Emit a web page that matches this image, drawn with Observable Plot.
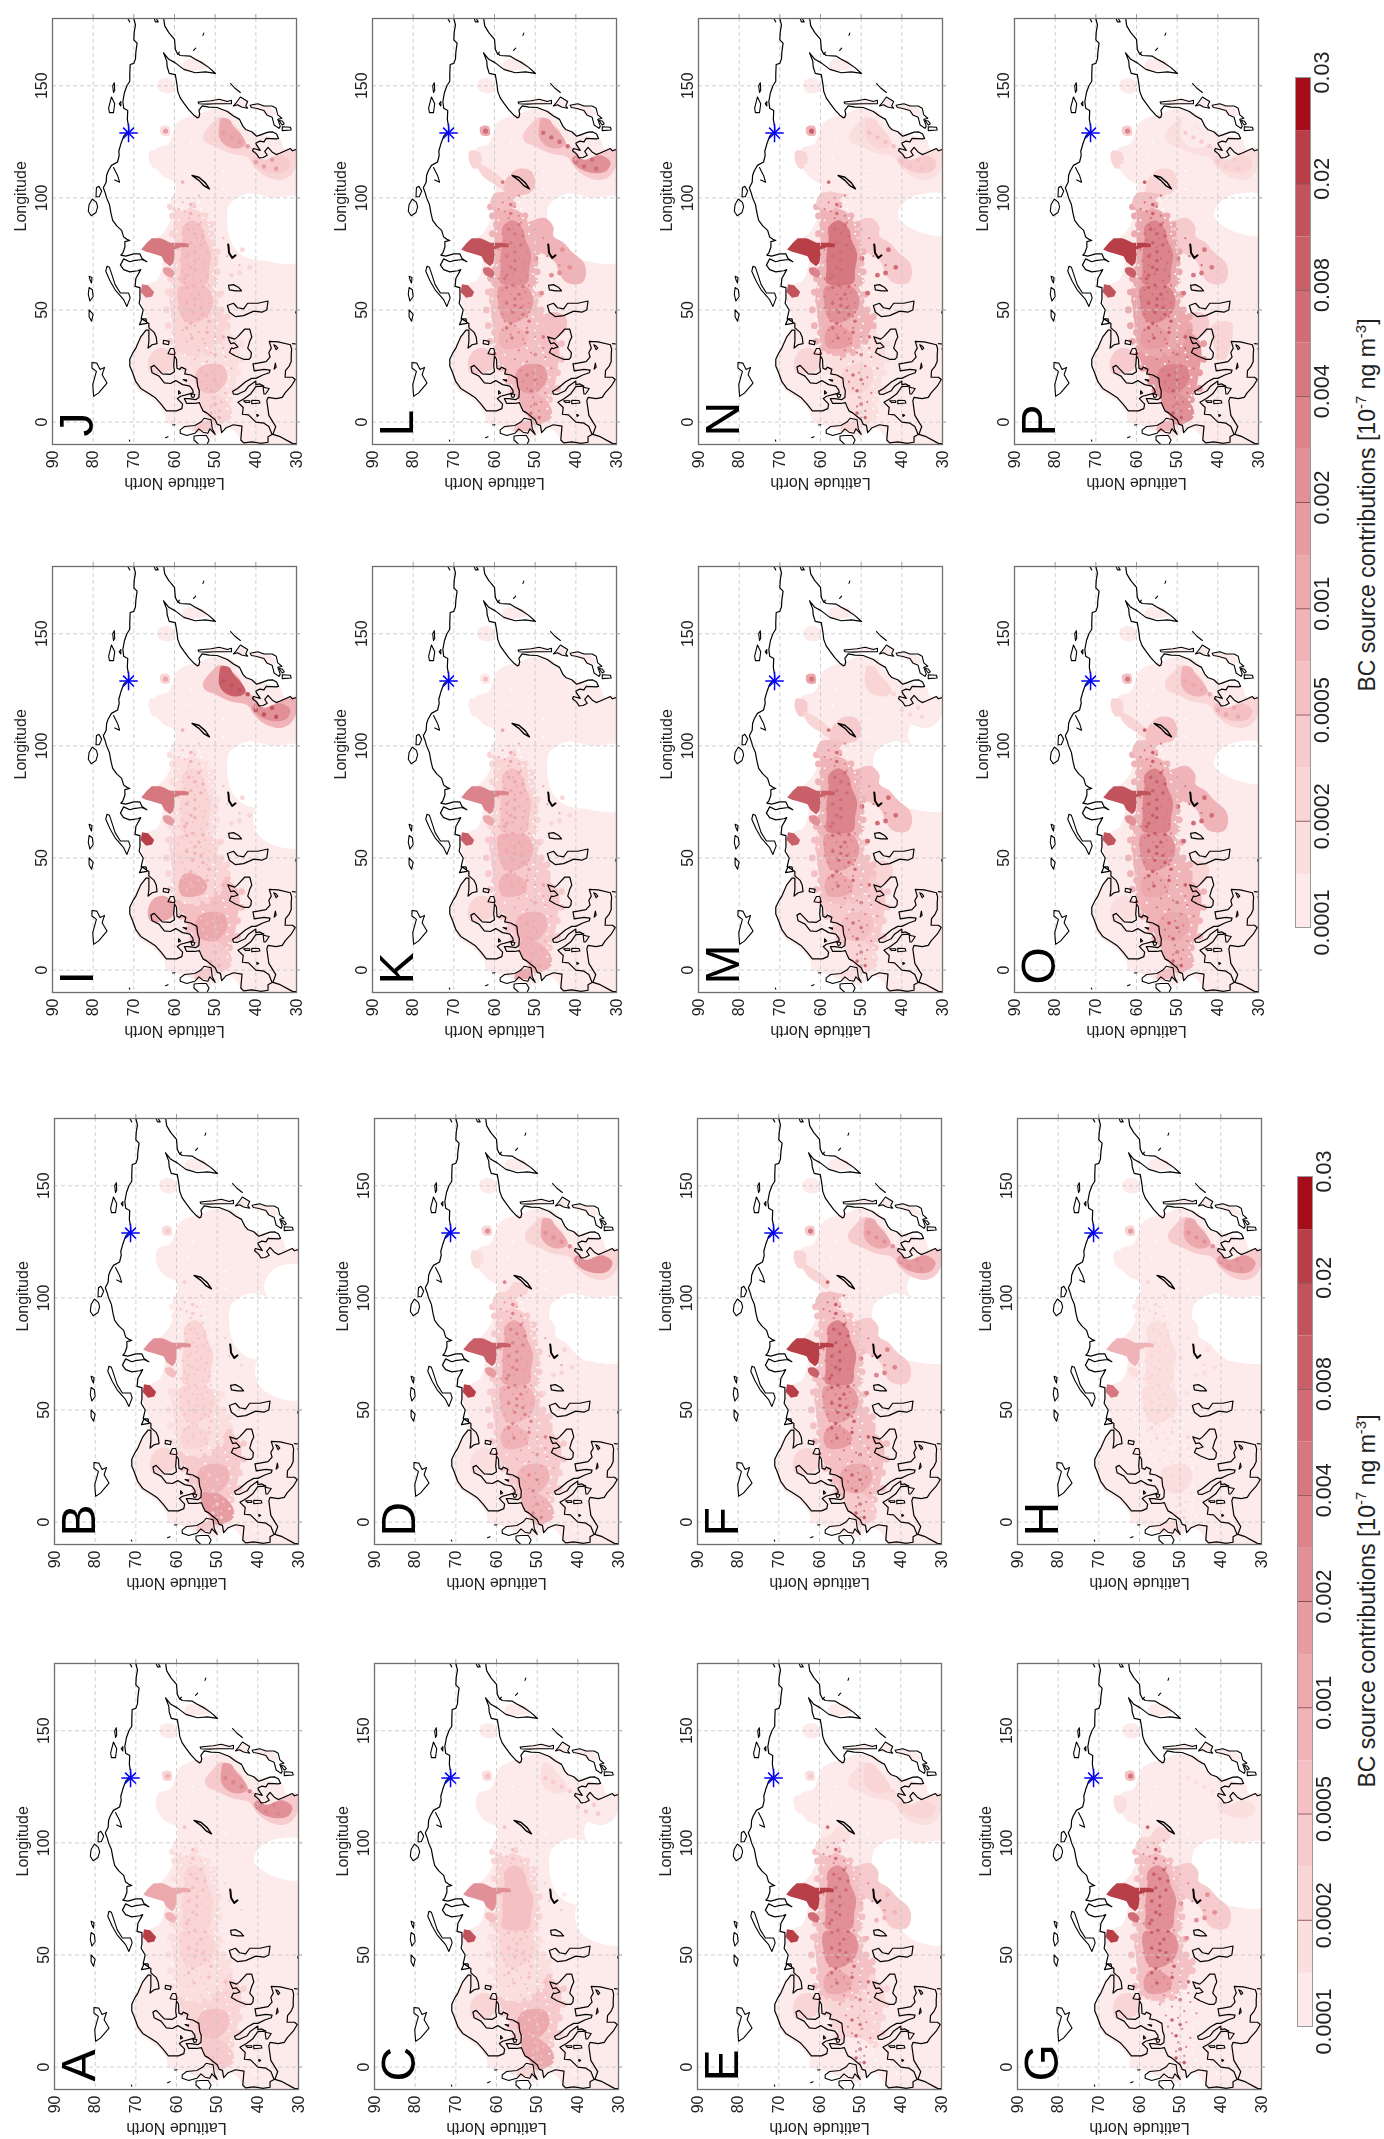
<!DOCTYPE html>
<html><head><meta charset="utf-8">
<script src="https://cdn.jsdelivr.net/npm/d3@7"></script>
<script src="https://cdn.jsdelivr.net/npm/@observablehq/plot@0.6"></script>
<style>
html,body{margin:0;padding:0;background:#fff}
#page{position:relative;width:1384px;height:2139px;overflow:hidden;font-family:"Liberation Sans",Arial,sans-serif;background:#fff}
.panel{position:absolute}
.panel svg{filter:blur(0.3px)}
.cbtitle{position:absolute;white-space:nowrap;font-size:23px;color:#222;transform:translate(-50%,-50%) rotate(-90deg)}
.cbtitle sup{font-size:15px;line-height:0}
</style></head><body><div id="page"></div>
<script>
// ---------- panels, in A..P order ----------
const panelLetters = ["A","B","C","D","E","F","G","H","I","J","K","L","M","N","O","P"];
const latTicks = [90,80,70,60,50,40,30];
const lonTicks = [0,50,100,150];
const latGrid = [80,70,60,50,40];
const station = {lon:128.9, lat:71.3};

// colour classes of the colour bar, lowest to highest
const colorClasses = ["#ffffff","#fdeaea","#fbdfdf","#f9d5d6","#f7cbcd","#f4c0c3","#f0b4b8","#eba8ad","#e79ca2","#e29097","#dc848c","#d67880","#cf6c75","#c85f69","#c1535d","#b83f48","#a60d1b"];
const barLabels = ["0.0001","0.0002","0.0005","0.001","0.002","0.004","0.008","0.02","0.03"];

// ---------- class of each source region in each panel (A..P) ----------
const lvNorilsk  = [7,9,9,13,15,15,15,6,11,11,10,14,13,15,14,15];
const lvKomi     = [15,15,14,15,15,15,15,11,15,11,13,14,13,14,14,14];
const lvNadym    = [6,5,5,8,12,13,12,2,8,8,7,12,9,10,9,13];
const lvYakutsk  = [3,2,2,3,2,4,5,3,3,2,1,7,7,6,5,4];
const lvChinaOut = [4,0,1,3,2,4,1,4,6,3,0,4,1,2,3,2];
const lvChinaNE  = [8,0,2,7,3,7,0,7,13,7,0,7,3,3,6,1];
const lvChinaN   = [9,0,0,9,3,8,2,8,9,4,0,9,1,4,5,3];
const lvSibOut   = [2,1,3,4,5,5,5,1,2,3,3,6,6,6,6,7];
const lvSibCore  = [3,3,5,7,9,10,9,2,3,5,5,9,10,11,10,10];
const lvVolgaOut = [2,2,2,4,5,5,5,1,3,3,4,5,5,6,6,7];
const lvVolgaCore= [3,3,3,6,9,8,9,2,3,5,6,8,8,9,9,10];
const lvMoscow   = [2,3,2,6,7,8,8,1,7,3,6,6,7,8,7,8];
const lvEastEu   = [3,4,4,4,3,5,1,1,5,2,4,5,4,2,6,8];
const lvPoland   = [5,6,7,6,3,7,1,2,7,5,6,8,5,3,7,10];
const lvWestEu   = [4,8,7,6,1,4,1,1,4,3,6,6,3,2,6,9];
const lvKazakh   = [0,0,0,1,4,4,4,1,0,0,0,6,5,4,6,4];
const lvEastSib  = [1,1,1,3,2,5,3,1,1,1,1,5,5,4,5,5];
const lvBaikal   = [0,0,0,0,0,1,0,0,0,0,0,5,4,1,5,3];
const lvVilyuy   = [0,0,0,2,1,3,2,1,1,1,1,3,4,3,3,3];
const lvVilyuyArm= [0,0,0,1,0,3,0,0,0,0,0,3,3,1,3,1];
const lvFinland  = [1,3,3,2,3,3,3,1,7,3,3,4,1,3,2,4];
const lvUK       = [1,4,3,1,1,1,1,2,4,4,7,5,2,3,5,6];
const lvCaucasus = [0,0,0,0,0,1,0,0,0,0,0,5,3,1,3,4];
const lvTurkey   = [0,0,0,0,0,0,0,0,0,0,0,1,1,0,1,3];
const lvCitySpot = [5,4,5,10,12,13,13,3,6,6,7,11,12,12,13,13];
const lvStipple  = [4,5,5,8,10,11,10,3,5,6,7,10,10,11,11,12];
const lvChinaSpot= [10,0,4,9,3,9,2,9,14,8,0,12,3,5,7,4];
const lvYakSpot  = [6,4,5,9,4,11,11,8,7,8,5,12,11,13,11,10];
const lvKazSpot  = [1,0,1,3,6,10,9,2,3,3,3,9,12,12,12,11];
const holeLargeOn= [0,1,1,1,1,1,1,1,1,1,1,1,1,0,0,0];
const holeSmallOn= [1,0,0,0,0,0,0,0,0,0,0,0,0,1,1,1];
const holeIranOn = [0,1,1,0,1,0,0,0,1,0,0,0,0,0,0,0];
const holeChinaOn= [0,1,1,0,0,1,0,0,0,0,0,0,1,0,0,0];

// ---------- region outlines, [lon,lat] ----------
const extent = [[-10,30],[-10,43.5],[-7,44],[-3,46],[-3,48],[-6,49.5],[-7,50.5],[-6,53],[-2,58],[-1,60.5],[0,62],[4,62.5],[8,64],[11,66],[14,68.5],[18,70],[23,70.5],[27,71],[30,70],[35,69.5],[41,67.5],[44,66.8],[47,67],[50,67.5],[54,68.3],[58,68.5],[60,67.5],[62,66],[63,64.5],[66,63.5],[70,63],[74,63],[76,66],[80,66],[84,63],[90,61],[96,60.5],[100,60],[107,60],[110,63],[116,65],[122,64.5],[124,61.5],[128,60.5],[133,59.5],[136,57],[137,54.5],[140,50],[138,45.5],[132,43.5],[130,41.5],[128,38],[126,34],[122,33],[122,30]];
const holeLarge = [[72,29],[72,38],[74,43],[80,46],[88,47],[97,46.5],[102,42],[100,36],[100,29]];
const holeSmall = [[84,29],[85,36],[92,41],[100,38],[101,29]];
const holeIran = [[55,29],[56,36],[62,40],[72,40],[72,29]];
const holeChina = [[100,29],[100,37],[105,38.5],[113,36],[114,29]];
const palePatches = [
  [[146.5,61.5],[148,63.8],[152,64],[153.5,62],[152,60.3],[148,60]],
  [[157,57.5],[159.5,58],[162,56.5],[161.5,53.5],[158.5,51.8],[157,54]],
  [[142,53],[143.5,50],[143.5,46.5],[142,47]],
  [[141,41],[141.5,38],[139,35.5],[137,35],[137,37],[140,40]],
  [[141,45],[144,44],[143,42.5],[140.7,43]]
];
const reNorilsk = [[77,68.2],[80,66.8],[82,65.6],[82,63.5],[81.5,62.8],[80,61],[80,60],[80,58],[79.5,56.5],[78,56.5],[78,58.5],[77,60],[74,60],[71,60.3],[69.5,61.1],[71.5,62.5],[74,63.2],[75.3,65.6],[76,67]];
const reKomi = [[61.5,68],[61,66.5],[58,65],[56,65.5],[55.5,67],[58,68.3]];
const reNadym = [[68.5,62.8],[69,61.5],[66.5,60],[64.5,60.5],[66,62.5]];
const reYakutsk = [[128,63.2],[131.5,63.5],[132,61.5],[128,61.2]];
const reChinaOut = [[136,49],[133,51],[128,53],[125,52.5],[123,50],[120,46.5],[118,42],[114,40.5],[110,38],[108,34],[110,31.5],[115,30],[121,30],[121,33],[119,35],[117,38],[122,40.5],[125,43],[130,44],[134,46.5]];
const reChinaNE = [[135.5,48.5],[132,49],[127,49],[123.5,47.5],[122,44.5],[124,42.5],[128,43.5],[132,45.5],[135,46.5]];
const reChinaN = [[119,40],[117,41],[113,39],[111,35.5],[112,32.5],[116,31.5],[119,34],[117,38]];
const reWestEu = [[-1,50.5],[3,52],[7,53.5],[11,54],[14,53],[13,50],[10,47.5],[6,46],[2,46],[-0.5,48]];
const reEastEu = [[11,54.5],[16,55.5],[22,57.5],[27,59],[32,59],[34,56],[38,52],[40,47],[36,44.5],[30,44],[24,44.5],[18,45],[12,46],[8,49]];
const rePoland = [[14,53.5],[19,55],[24,54],[26,51],[25,48],[20,47],[16,48],[13,50]];
const reVolgaOut = [[30,58],[36,60],[44,60.5],[52,61],[60,61],[62,57],[62,52],[58,50],[52,49.5],[45,47],[40,48],[35,50],[31,53]];
const reVolgaCore = [[46,58],[52,59],[60,59],[61,56],[60,52],[55,50.5],[50,51],[46,53],[44,56]];
const reMoscow = [[33,58],[38,59],[43,57.5],[42,54],[38,52],[34,53]];
const reSibOut = [[60,60],[65,60.5],[72,60],[80,60],[86,60],[93,60],[97,60.5],[100,59],[96,56.5],[94,54],[90,52],[85,51.5],[80,51],[73,49.5],[66,50],[60,50.5]];
const reSibCore = [[62,58.5],[68,58.5],[75,58.5],[82,58],[87,58],[90,55.5],[86,53],[82,52.5],[75,51],[68,51.5],[62,52]];
const reKazakh = [[78,54],[82,54],[87,53],[90,50.5],[91,47.5],[87,45.5],[83,45.5],[80,43],[76,41],[71,38],[66,37.5],[62,38.5],[62,42],[66,44],[71,45],[75,48],[76,51]];
const reEastSib = [[97,61],[102,60],[103,57.5],[107,55.5],[105,52.5],[102,52.5],[100,55],[96,56],[94,58]];
const reBaikal = [[104,58],[110,56.5],[113,54],[112,51],[106,50],[102,51.5],[102,55]];
const reVilyuy = [[121,66],[117,66.3],[113,65],[114.5,63.5],[120,63.5]];
const reVilyuyArm = [[115,64],[112,60.5],[107,57.5],[104,58],[106,60],[110,63]];
const reFinland = [[22,66],[27,66.5],[32,65],[33,62.5],[29,60],[24,60.5],[22,62.5]];
const reUK = [[-4,55],[-1.5,54.8],[0.5,52.5],[0.5,51],[-3.5,51],[-4,53]];
const reCaucasus = [[38,47],[45,48],[49,46],[47,42.5],[41,42.5],[38,44.5]];
const reTurkey = [[28,40.5],[31,40.5],[37,41.5],[43,41.5],[45,39],[44,36.5],[37,36.5],[30,37.5],[28,38]];

// ---------- rough edges of the belt, point sources and gaps ----------
const fringeVolga = [[31,56],[33,59.5],[36,61],[40,60],[43,61.5],[47,60],[50,62],[54,60.5],[58,61.5],[62,60],[63,55],[61,51.5],[57,49],[54,50],[50,48.5],[47,47],[43,47],[40,49],[36,49],[34,51],[31,52],[30,54.5]];
const fringeSib = [[64,61],[68,60],[72,61],[76,59.5],[84,60.5],[88,59.5],[92,60.5],[96,61],[99,58],[97,55.5],[93,55],[92,52.5],[88,51],[84,51],[80,50.5],[76,49.5],[71,50],[67,49.5],[63,50]];
const fringeEast = [[14,55.5],[18,56.5],[24,58.5],[30,59],[35,55],[39,50],[41,47],[35,43.5],[28,43.5],[22,44.5],[15,44.5],[10,46.5],[7,49.5]];
const stipple = [[2,50],[5,49],[7,51],[9,48.5],[11,50.5],[13,47.5],[15,52],[17,49.5],[18,53],[20,48.5],[22,50.5],[23,53.5],[25,49],[27,52],[28,55],[29,47.5],[31,51],[32,54],[33,48],[35,52.5],[36,57],[37,53],[38,50],[39,56],[40,54],[41,58],[42,52],[43,55],[45,57.5],[46,54],[47,52],[48,58],[49,51.5],[50,56],[51,59],[52,53],[53,51.5],[54,57],[55,53.5],[56,59],[57,56],[58,52.5],[59,58],[60,55],[61,51.5],[62,57.5],[63,53.5],[64,59],[65,52],[66,55.5],[67,58],[68,53],[70,57],[71,52.5],[72,58.5],[73,54],[75,56.5],[76,52],[77,59],[78,55],[80,52.5],[81,57.5],[82,54.5],[84,58],[85,53],[86,55.5],[88,57],[89,53.5],[91,56.5],[92,54],[94,57.5],[95,59],[96,55],[98,58],[100,56.5],[101,54],[24,46],[30,45.5],[36,46.5],[70,44],[74,47],[82,48],[86,50]];
const citySpots = [[107,58],[97,56],[93,56],[88,54],[84,55],[83,53],[79,53.5],[76,55],[72,55],[69,56],[65.5,57],[61,55.5],[60,57],[57,54],[60.5,53],[55,55],[52,55],[51,53.5],[49,55.5],[44,56],[45,51.5],[40,52],[37.5,55.7],[30.5,60],[38,48],[30,50],[21,52],[19,50],[14,51],[8,50],[4,51],[2,49],[64,57.5],[68,55],[74,57],[80,56],[86,56.5],[53,57],[48,53],[42,57]];
const kazakhSpots = [[65.5,46],[57.5,48.4],[73,49.8],[66.5,44],[69,41.5],[76.9,43.3]];
const chinaSpots = [[114,38],[116,40],[123,42],[125,44],[127,46],[129,48],[117,36],[113,35]];
const yakutskSpot = [[129.8,62.2]];
const whiteSpecks = [[10,47],[12,46.5],[16,47],[20,46.5],[24,47],[28,47.5],[31,48],[34,49],[37,50],[41,50],[44,49.5],[47,50.5],[55,50],[57,50.5],[60,50.3],[63,49.5],[66,50.5],[69,50],[76,50],[80,50],[84,51.5],[88,51.5],[91,53],[95,53.5],[98,54],[35,60],[38,60.5],[42,60],[46,61],[50,60],[55,60.5],[60,60.5],[65,60],[70,59.5],[85,59.5],[90,59],[15,57],[20,58],[25,58],[30,57.5],[6,47],[3,46],[33,52],[26,53],[58,47],[62,45],[110,56],[118,57],[125,56],[104,48],[112,48],[-3,41],[20,63],[34,62]];

// ---------- coast lines, [lon,lat] ----------
const coastArctic = [[180,70],[177,69.6],[174,69.9],[170.5,70],[169,69.2],[165,69.5],[162,69.6],[160,70],[159.5,70.9],[155,71],[152,71],[150,71.7],[147,72.3],[143,72.7],[140,72.5],[139,71.5],[135,71.6],[132,71.3],[130,71.2],[127.5,72.5],[124,73.2],[120.8,73.7],[119,73.6],[116,74],[114.5,75.5],[112,76.3],[110,76.7],[107,76.8],[104.5,77.5],[102,77],[100,76.7],[97,76],[93,75.6],[90,75.2],[87.5,74.2],[85.5,73],[82.5,72.5],[81.5,71.7],[81,71],[80.5,72.2],[78,72.2],[75.5,72.7],[74.5,73.2],[74,72],[75,70],[75,68.5],[73,68],[71.5,66.8],[72.5,68],[72,70],[71.5,71],[72.8,72.5],[70,73.3],[68,72.5],[67,71],[67.5,69],[68,68.3],[64,69.5],[60.5,69.7],[60,68.5],[55,68.5],[53,68.7],[50,67.7],[46,68.2],[46,67],[44,66.8],[43.5,68.6],[46,68],[44,66.3],[42,66.3],[40,65],[38,64.5],[35,64.3],[34.5,65.5],[33,66.5],[36,66.3],[41,66.3],[41,67],[38,68.3],[33,69.5],[31,70.2],[28,71],[25,71],[22,70.3],[18,69.5],[15,68.3],[13,66.5],[11,64.8],[8,63.3],[5,62],[5,59.5],[6,58.2],[8,58],[10.5,59.3],[11.5,58.5],[12.5,56.5],[13,55.4],[14.3,55.5],[16,56.2],[16.7,58],[18.5,59.7],[17.2,61],[17.5,62.5],[20.5,63.8],[22,65.5],[24.5,65.8],[25.3,65],[21.5,63],[21.3,61],[22.5,60],[25,60.2],[29.5,60],[28,59.5],[24,59.4],[23.5,58.7],[24.5,58.3],[23.5,57.2],[21.5,57.5],[21,56],[19.5,54.5],[16,54.3],[14,53.9],[11,54],[10,54.8],[10.5,56.5],[10.5,57.6],[8.3,57],[8.3,55],[8.7,53.9],[7,53.5],[5,53],[4,52],[2.5,51],[1,50],[-1,49.5],[-1.5,48.7],[-4.7,48.4],[-2.5,47.3],[-1.2,45.5],[-1.8,43.4],[-8,43.7],[-9.3,43],[-8.8,41],[-9.5,38.7],[-9,37],[-6.5,37],[-5.5,36],[-2,36.8],[-0.5,38],[0,40],[3.2,41.8],[3.5,43.3],[6.5,43.1],[8.8,44.4],[10.5,42.8],[12.5,41.3],[15.8,40],[16,38],[17,39],[16.7,40],[18.3,40],[16,41.8],[14,42.6],[12.4,44.5],[12.5,45.5],[13.7,45.7],[15,44.5],[18,42.5],[19.5,41],[19.5,40],[21,38.3],[22,36.7],[23.2,36.5],[23.5,38],[22.8,40.4],[24,40.5],[26,40.7],[26.3,39.5],[27,37.5],[29,36.5],[31,36.8],[33,36.2],[36,36.7],[35.8,34.5],[34.5,31.5],[32.5,31.2],[30,31.3],[27,31.3],[25,31.8],[23,32.7],[20,32.8],[20,31],[19,30.3],[16,31.3],[13,32.8],[11,33.5],[10.5,35],[11,37],[9.5,37.3],[3,36.8],[-2,35.1],[-5.5,35.8],[-6.5,34],[-9.5,31],[-9.7,29.5]];
const coastPacific = [[121.8,29.5],[121,31],[122,31.5],[120,34],[119.3,35],[120.5,36],[122.5,37],[120.7,37.8],[119,37.2],[118,38.2],[117.8,39.2],[119.5,39.8],[121,40.8],[122,40.6],[121.2,38.9],[123.5,39.8],[124.5,40],[125.3,39],[125,38],[126.5,37.5],[126.3,35],[126.5,34.4],[128.5,34.9],[129.4,35.8],[129.3,37],[128,39],[127.5,39.8],[129.5,41],[130.5,42.5],[132,43.2],[135,44],[136.5,45.5],[138.5,47],[140.3,49.5],[140.5,51.5],[141,53.2],[139,54],[137.5,53.8],[136,54],[135.7,54.4],[137,55.3],[139.4,56.5],[142,57.6],[144.6,58.6],[147.5,59.2],[150.6,59.4],[155,59.8],[155.5,61.3],[158.5,61.8],[161,61.9],[164.7,62.7],[161.8,61.4],[160.2,59.8],[157.3,57.7],[155.8,54.9],[156.2,52.4],[155.5,49.9],[158.2,51.6],[160.2,53.2],[161.8,54.9],[163.2,56.1],[163.5,58.6],[164.7,59.4],[166.3,59.8],[170.7,60],[173.7,61.4],[176.7,62.4],[180.4,62.7]];
const coastBaikal = [[110,55.7],[109.2,54],[106.7,52.4],[104,51.4],[105.5,52.8],[107.8,54],[110,55.7]];
const coastBalkhash = [[79.2,46.8],[78,46.7],[75.5,46.6],[73.2,45.8],[74.4,45]];
const coastAral = [[58.5,45],[59,46.5],[61,46.7],[61.3,45.5],[60,44.2],[58.5,43.5],[58.5,45]];
const coastCaspian = [[47,45],[49,46.5],[52,47],[53,45.5],[51,44.5],[50.5,43],[53,42],[53,39.5],[54,37],[50,37.3],[49,38.5],[49.5,40.5],[47.5,43],[47,45]];
const coastBlack = [[28,41.7],[28,43],[29.5,45],[31,46.5],[33,46],[32.8,45.5],[33.5,44.4],[35.3,45.3],[35,46.2],[38,46.9],[37,45.2],[38,44.5],[41.5,42.7],[41.5,41.5],[38,41],[36,41.5],[33,42],[31,41.1],[29,41.2],[28,41.7]];
const coastIslands = [
  [[92,80.5],[94,81.2],[97,81],[99.5,80.2],[98,79.2],[96,78.9],[93.5,79.3],[92,80.5]],
  [[100.5,79.3],[104.5,79.2],[105.2,78.6],[103,77.9],[100.5,78.5],[100.5,79.3]],
  [[140,76.2],[145,75.5],[142,74.7],[138,75],[138,76],[140,76.2]],
  [[147,75],[150,75.2],[151.3,74.8],[148,74.7],[147,75]],
  [[142,73.6],[143,73.2],[141,73.2],[142,73.6]],
  [[113.5,75],[110,74],[107,73.5],[108,74.7]],
  [[69.5,76.6],[67.3,76.9],[62.8,75.8],[59,74.6],[54.6,72.5],[51.6,71.7],[55.4,70.9],[57.6,71.3],[57.6,73.3],[61.3,74.6],[65.8,75.4],[69,76],[69.5,76.6]],
  [[65,81],[63,80.7],[62,80.4],[64.5,80.3],[65,81]],
  [[60,81],[57,81.2],[54,80.8],[56,80],[59,80.2],[60,81]],
  [[50,81],[47,81],[45,80.4],[48,80],[50,81]],
  [[26.6,80.3],[26.3,79.1],[23.4,78.3],[24.4,77.2],[21.1,77.8],[17.4,76.6],[12.9,78.7],[11.5,79.9],[16.7,80.1],[22.6,79.2],[24.1,80.3],[26.6,80.3]],
  [[142.7,54.2],[143,53],[143.3,51],[144,49],[143,47],[143.5,46],[142,46],[142,48],[142,50],[141.8,52],[142,54],[142.7,54.2]],
  [[141,45.5],[142,45],[145,43.8],[143,42],[141,42.5],[140,42],[140.5,43.5],[141.5,44.5],[141,45.5]],
  [[151,46.2],[149,45.2],[147,43.8]],
  [[141.3,41.4],[142,39.5],[141,38],[141,36],[140,35],[137,34.6],[135.5,33.6],[135,34.6],[132,34],[131,34.3],[132.5,35.5],[136,36],[137,37.3],[139,38],[140,40],[140.3,41.1],[141.3,41.4]],
  [[130,33.5],[131.7,33.5],[131.5,31.5],[130.3,31.3],[130,33.5]],
  [[132.5,33.5],[134.5,34.3],[134.3,33.5],[133,33],[132.5,33.5]],
  [[-5.5,50],[-3,50.7],[1,51],[1.7,52.7],[0,53.5],[-1.5,55],[-2,57.5],[-3.5,58.6],[-5,58.6],[-6,57],[-5,55],[-3,54],[-4.5,53],[-5,51.8],[-3,51.3],[-5.5,50]],
  [[-6,52.2],[-6,54],[-6.2,55.2],[-8,55.2],[-10,54],[-10,52],[-8,51.5],[-6,52.2]],
  [[-7,62.2],[-6.5,61.6]],[[-8.5,71],[-8,71.1]],[[-1.3,60.5],[-1.2,59.9]],
  [[12.5,38],[15.5,38.2],[15,36.7],[12.5,37.6],[12.5,38]],
  [[8.2,41],[9.7,41],[9.6,39.2],[8.5,39],[8.2,41]],
  [[8.7,42.5],[9.5,43],[9.5,41.5],[8.8,41.5],[8.7,42.5]],
  [[23.6,35.5],[26.3,35.2],[24.5,35],[23.6,35.5]],
  [[32.3,35],[34.5,35.6],[33.9,35],[33,34.6],[32.3,35]],
  [[2.5,39.7],[3.4,39.8],[3,39.3],[2.5,39.7]],
  [[11,55.7],[12.5,56],[12.3,55],[11.2,55.2],[11,55.7]],
  [[18.2,57.1],[19,57.9],[18.7,57],[18.2,57.1]],
  [[30,60],[30.5,61.6],[32.8,61],[32.8,60.2],[31,59.9],[30,60]],
  [[34.5,61.5],[35,62.8],[36.5,62.7],[36,61.3],[34.5,61.5]],
  [[12.5,59],[14,59],[13,58.5],[12.5,59]],
  [[180,65],[178.5,64.7],[178.5,64],[180,64.5]],[[180,71.5],[178.5,71]],
  [[172.5,53],[173.5,52.8]],[[165.8,55.3],[166.8,54.8]],[[164,59.2],[165,58.8]],
  [[48.7,30.2],[50,30],[50.5,29.5]],[[32.5,29.5],[32.6,30.2]],[[34.8,30],[35,31]]
];

// ---------- frame positions of the panels (page pixels) ----------
const frameLeft = [54,54,374,374,697,697,1017,1017,52,52,372,372,698,698,1014,1014];
const frameTop  = [1663,1118,1663,1118,1663,1118,1663,1118,566,18,566,18,566,18,566,18];
const frameW = 244, frameH = 426;
const mL = 50, mR = 10, mT = 6, mB = 50;

const page = document.getElementById("page");
const lonOf = d => d[0], latOf = d => d[1];

function area(poly, level, curve="catmull-rom-closed"){
  if(!level) return null;
  return Plot.line(poly,{x:latOf,y:lonOf,fill:colorClasses[level],stroke:"none",curve,clip:true});
}
function hole(poly,on){
  return on ? Plot.line(poly,{x:latOf,y:lonOf,fill:"#fff",stroke:"none",curve:"catmull-rom-closed",clip:true}) : null;
}
function spots(pts,level,r){
  if(!level) return null;
  return Plot.dot(pts,{x:latOf,y:lonOf,r,fill:colorClasses[level],stroke:"none",clip:true});
}
function coast(pts,w=1.2){
  return Plot.line(pts,{x:latOf,y:lonOf,stroke:"#000",strokeWidth:w,clip:true,curve:"linear"});
}

panelLetters.forEach((letter,i)=>{
  const marks = [
    area(extent,1),
    hole(holeLarge,holeLargeOn[i]), hole(holeSmall,holeSmallOn[i]), hole(holeIran,holeIranOn[i]), hole(holeChina,holeChinaOn[i]),
    ...palePatches.map(p=>area(p,1)),
    area(reChinaOut,lvChinaOut[i]),
    area(reChinaNE,lvChinaNE[i]),
    area(reChinaN,lvChinaN[i]),
    area(reKazakh,lvKazakh[i]),
    area(reCaucasus,lvCaucasus[i]),
    area(reTurkey,lvTurkey[i]),
    area(reFinland,lvFinland[i]),
    area(reUK,lvUK[i]),
    area(reEastEu,lvEastEu[i]),
    spots(fringeEast,lvEastEu[i],3.4),
    area(reWestEu,lvWestEu[i]),
    area(rePoland,lvPoland[i]),
    area(reVolgaOut,lvVolgaOut[i]),
    spots(fringeVolga,lvVolgaOut[i],3.4),
    area(reSibOut,lvSibOut[i]),
    spots(fringeSib,lvSibOut[i],3.4),
    area(reEastSib,lvEastSib[i]),
    area(reBaikal,lvBaikal[i]),
    area(reVilyuy,lvVilyuy[i]),
    area(reVilyuyArm,lvVilyuyArm[i]),
    area(reVolgaCore,lvVolgaCore[i]),
    area(reSibCore,lvSibCore[i]),
    area(reMoscow,lvMoscow[i]),
    area(reYakutsk,lvYakutsk[i]),
    area(reNadym,lvNadym[i]),
    area(reKomi,lvKomi[i],"linear"),
    area(reNorilsk,lvNorilsk[i],"linear"),
    Plot.dot(whiteSpecks,{x:latOf,y:lonOf,r:1,fill:"#fff",stroke:"none",clip:true}),
    spots(stipple,lvStipple[i],1.1),
    spots(citySpots,lvCitySpot[i],1.8),
    spots(kazakhSpots,lvKazSpot[i],2.4),
    spots(chinaSpots,lvChinaSpot[i],2.2),
    spots(yakutskSpot,lvYakSpot[i],2.6),
    Plot.ruleX(latGrid,{stroke:"#c9c9c9",strokeDasharray:"4,3",strokeWidth:0.9}),
    Plot.ruleY(lonTicks,{stroke:"#c9c9c9",strokeDasharray:"4,3",strokeWidth:0.9}),
    coast(coastArctic), coast(coastPacific),
    coast(coastBaikal,1.4), coast(coastBalkhash,2), coast(coastAral), coast(coastCaspian), coast(coastBlack),
    ...coastIslands.map(p=>coast(p,1.1)),
    Plot.frame({stroke:"#6e6e6e",strokeWidth:1.3}),
    Plot.axisX({anchor:"bottom",ticks:latTicks,tickSize:0,tickRotate:-90,tickPadding:6,fontSize:16,label:null,tickFormat:d=>String(d)}),
    Plot.axisY({anchor:"left",ticks:lonTicks,tickSize:0,tickRotate:-90,tickPadding:6,fontSize:16,label:null,tickFormat:d=>String(d)}),
    Plot.ruleY(lonTicks,{x1:()=>30,x2:()=>29,stroke:"#999"}),
    Plot.ruleX(latGrid,{y1:()=>180,y2:()=>181.8,stroke:"#999"}),
    Plot.text(["Longitude"],{frameAnchor:"left",y:()=>85,dx:-32,rotate:-90,fontSize:16,fill:"#222"}),
    Plot.text(["Latitude North"],{frameAnchor:"bottom",x:()=>60,dy:33,rotate:180,fontSize:16,fill:"#222"}),
    Plot.dot([station],{x:"lat",y:"lon",symbol:"plus",r:6,stroke:"#0000ff",strokeWidth:1.5}),
    Plot.dot([station],{x:"lat",y:"lon",symbol:"times",r:5,stroke:"#0000ff",strokeWidth:1.5}),
    Plot.text([letter],{x:()=>80,y:()=>-6.4,rotate:-90,textAnchor:"start",lineAnchor:"bottom",fontSize:48,fill:"#000"})
  ].filter(Boolean);
  const svg = Plot.plot({
    width:frameW+mL+mR,height:frameH+mT+mB,
    marginLeft:mL,marginRight:mR,marginTop:mT,marginBottom:mB,
    style:{fontFamily:'"Liberation Sans",Arial,sans-serif',background:"transparent",color:"#222"},
    x:{domain:[90,30],axis:null},
    y:{domain:[-10,180],axis:null},
    marks
  });
  const box=document.createElement("div");
  box.className="panel";
  box.style.left=(frameLeft[i]-mL)+"px";
  box.style.top=(frameTop[i]-mT)+"px";
  box.appendChild(svg);
  page.appendChild(box);
});

// ---------- colour bars ----------
const barClasses = d3.range(1,17);
const barTicks = d3.range(0,17,2);
function colorBar(left,top,h){
  const ml=1,mr=50,mt=34,mb=40,w=15;
  const svg=Plot.plot({
    width:ml+w+mr,height:h+mt+mb,marginLeft:ml,marginRight:mr,marginTop:mt,marginBottom:mb,
    style:{fontFamily:'"Liberation Sans",Arial,sans-serif',background:"transparent",color:"#222"},
    x:{domain:[0,1],axis:null},
    y:{domain:[0,16],axis:null},
    marks:[
      Plot.rect(barClasses,{x1:0,x2:1,y1:d=>d-1,y2:d=>d,fill:d=>colorClasses[d],inset:0}),
      Plot.ruleY(barTicks.slice(1,-1),{x1:0,x2:1,stroke:"#7a3a40",strokeWidth:0.8}),
      Plot.frame({stroke:"#999",strokeWidth:1}),
      Plot.axisY({anchor:"right",ticks:barTicks,tickSize:0,tickRotate:-90,tickPadding:18,dy:-5,fontSize:21.5,label:null,tickFormat:d=>barLabels[d/2]})
    ]
  });
  const box=document.createElement("div");
  box.className="panel";
  box.style.left=(left-ml)+"px";
  box.style.top=(top-mt)+"px";
  box.appendChild(svg);
  page.appendChild(box);
}
colorBar(1295,77,850);
colorBar(1297,1176,850);
[[1367,505],[1367,1601]].forEach(([x,y])=>{
  const t=document.createElement("div");
  t.className="cbtitle";
  t.style.left=x+"px";t.style.top=y+"px";
  t.innerHTML="BC source contributions [10<sup>-7</sup> ng m<sup>-3</sup>]";
  page.appendChild(t);
});
</script></body></html>
